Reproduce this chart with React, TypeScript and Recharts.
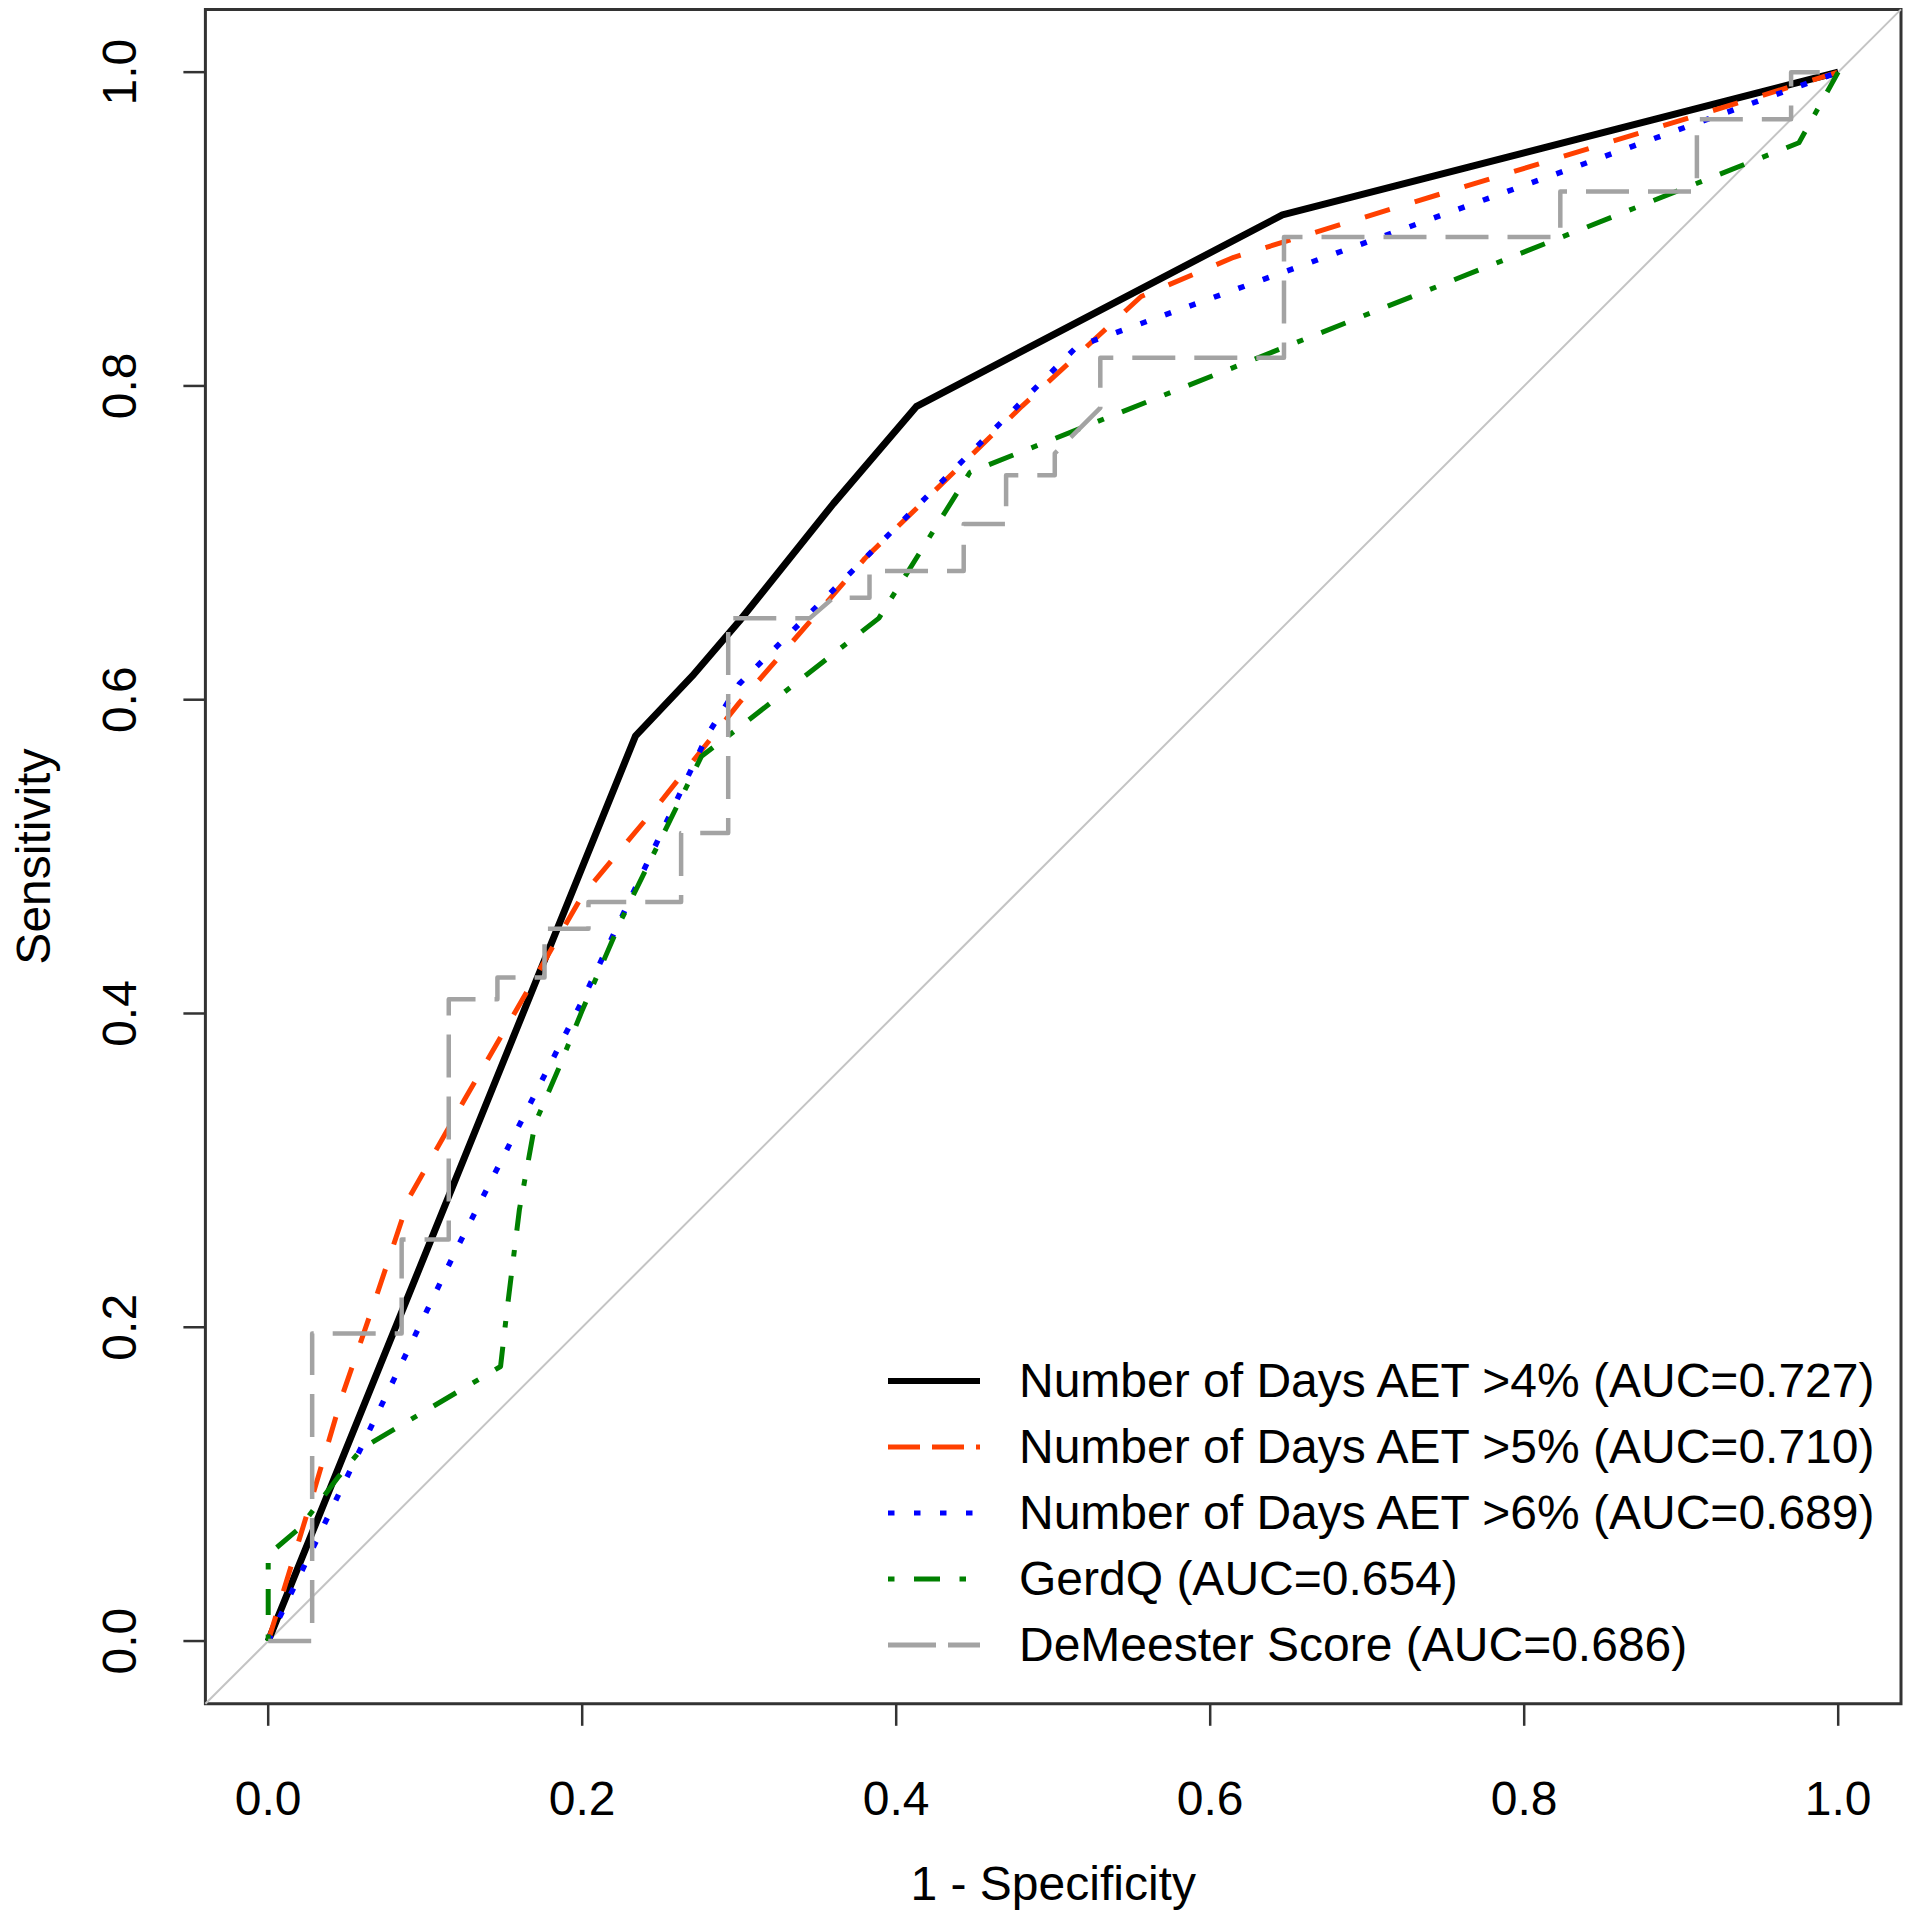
import React from "react";
import {
  Legend,
  Line,
  LineChart,
  ReferenceArea,
  ReferenceLine,
  XAxis,
  YAxis,
} from "recharts";

const FONT = "'Liberation Sans', Arial, Helvetica, sans-serif";

const axisTicks = [0, 0.2, 0.4, 0.6, 0.8, 1];

// x = 1 - specificity, y = sensitivity
const aet4Fpr = [0, 0.234, 0.27, 0.3, 0.36, 0.413, 0.646, 1];
const aet4Sens = [0, 0.577, 0.615, 0.65, 0.725, 0.787, 0.909, 1];

const aet5Fpr = [0, 0.029, 0.047, 0.068, 0.09, 0.125, 0.2, 0.25, 0.3, 0.38, 0.48, 0.556, 0.615, 1];
const aet5Sens = [0, 0.095, 0.156, 0.217, 0.283, 0.345, 0.475, 0.535, 0.598, 0.69, 0.787, 0.857, 0.882, 1];

const aet6Fpr = [0, 0.12, 0.2, 0.28, 0.3, 0.515, 1];
const aet6Sens = [0, 0.25, 0.408, 0.578, 0.61, 0.825, 1];

const gerdqFpr = [0, 0, 0.02, 0.045, 0.06, 0.148, 0.152, 0.16, 0.17, 0.185, 0.2, 0.225, 0.276, 0.297, 0.389, 0.447, 0.975, 1];
const gerdqSens = [0, 0.055, 0.072, 0.105, 0.123, 0.175, 0.21, 0.275, 0.33, 0.365, 0.402, 0.46, 0.564, 0.58, 0.652, 0.745, 0.955, 1];

const demeesterFpr = [
  0, 0.028, 0.028, 0.085, 0.085, 0.115, 0.115, 0.146, 0.146, 0.176, 0.176, 0.204, 0.204,
  0.263, 0.263, 0.293, 0.293, 0.345, 0.36, 0.383, 0.383, 0.443, 0.443, 0.47, 0.47, 0.501,
  0.501, 0.53, 0.53, 0.647, 0.647, 0.823, 0.823, 0.91, 0.91, 0.97, 0.97, 1,
];
const demeesterSens = [
  0, 0, 0.196, 0.196, 0.256, 0.256, 0.409, 0.409, 0.423, 0.423, 0.454, 0.454, 0.471,
  0.471, 0.515, 0.515, 0.652, 0.652, 0.665, 0.665, 0.682, 0.682, 0.712, 0.712, 0.743, 0.743,
  0.757, 0.786, 0.818, 0.818, 0.895, 0.895, 0.924, 0.924, 0.97, 0.97, 1, 1,
];

const toPoints = (xs: number[], ys: number[]) => xs.map((x, i) => ({ x, y: ys[i] }));

const curves = [
  {
    name: "Number of Days AET >4% (AUC=0.727)",
    points: toPoints(aet4Fpr, aet4Sens),
    color: "#000000",
    width: 7,
    dash: undefined as string | undefined,
    legendDash: undefined as string | undefined,
  },
  {
    name: "Number of Days AET >5% (AUC=0.710)",
    points: toPoints(aet5Fpr, aet5Sens),
    color: "#ff4000",
    width: 5,
    dash: "26 26",
    legendDash: "32 12",
  },
  {
    name: "Number of Days AET >6% (AUC=0.689)",
    points: toPoints(aet6Fpr, aet6Sens),
    color: "#0000ff",
    width: 5.5,
    dash: "6.5 19.5",
    legendDash: "6.5 19.5",
  },
  {
    name: "GerdQ (AUC=0.654)",
    points: toPoints(gerdqFpr, gerdqSens),
    color: "#008000",
    width: 5,
    dash: "6.5 19.5 26 19.5",
    legendDash: "6.5 19.5 26 19.5",
  },
  {
    name: "DeMeester Score (AUC=0.686)",
    points: toPoints(demeesterFpr, demeesterSens),
    color: "#a3a3a3",
    width: 4.5,
    dash: "43 19",
    legendDash: "48 12",
  },
];

// layout
const PLOT_LEFT = 205.4;
const PLOT_RIGHT = 1901;
const PLOT_TOP = 9.4;
const PLOT_BOTTOM = 1703.8;
const Y_AXIS_W = 190;
const X_AXIS_H = 200;

function YTick(props: any) {
  const { x, y, payload } = props;
  return (
    <text
      x={x}
      y={y}
      transform={`rotate(-90 ${x} ${y})`}
      textAnchor="middle"
      fontSize={48}
      fontFamily={FONT}
      fill="#000"
    >
      {Number(payload.value).toFixed(1)}
    </text>
  );
}

function RocLegend() {
  return (
    <div style={{ fontFamily: FONT, fontSize: 48, color: "#000" }}>
      {curves.map((c) => (
        <div
          key={c.name}
          style={{
            display: "flex",
            alignItems: "center",
            height: 66,
            lineHeight: "66px",
            whiteSpace: "nowrap",
          }}
        >
          <svg width={92} height={20} style={{ marginRight: 39, flexShrink: 0 }}>
            <line
              x1={0}
              x2={92}
              y1={10}
              y2={10}
              stroke={c.color}
              strokeWidth={c.width === 7 ? 6 : 5}
              strokeDasharray={c.legendDash}
            />
          </svg>
          <span>{c.name}</span>
        </div>
      ))}
    </div>
  );
}

export default function App() {
  return (
    <div style={{ width: 1914, height: 1920, background: "#fff" }}>
      <style>{"body{margin:0}"}</style>
      <LineChart
        width={1914}
        height={1920}
        margin={{
          top: PLOT_TOP,
          right: 1914 - PLOT_RIGHT,
          left: PLOT_LEFT - Y_AXIS_W,
          bottom: 1920 - PLOT_BOTTOM - X_AXIS_H,
        }}
      >
        <XAxis
          type="number"
          dataKey="x"
          domain={[-0.04, 1.04]}
          ticks={axisTicks}
          interval={0}
          allowDataOverflow
          height={X_AXIS_H}
          axisLine={false}
          tickSize={22}
          tickMargin={55}
          tickLine={{ stroke: "#333", strokeWidth: 2.5 }}
          tick={{ fontSize: 48, fill: "#000", fontFamily: FONT }}
          tickFormatter={(v: number) => v.toFixed(1)}
          label={{
            value: "1 - Specificity",
            content: () => (
              <text
                x={(PLOT_LEFT + PLOT_RIGHT) / 2}
                y={1900}
                textAnchor="middle"
                fontSize={48}
                fontFamily={FONT}
                fill="#000"
              >
                1 - Specificity
              </text>
            ),
          }}
        />
        <YAxis
          type="number"
          dataKey="y"
          domain={[-0.04, 1.04]}
          ticks={axisTicks}
          interval={0}
          allowDataOverflow
          width={Y_AXIS_W}
          axisLine={false}
          tickSize={22}
          tickMargin={47.4}
          tickLine={{ stroke: "#333", strokeWidth: 2.5 }}
          tick={YTick}
          label={{
            value: "Sensitivity",
            content: () => {
              const cy = (PLOT_TOP + PLOT_BOTTOM) / 2;
              return (
                <text
                  x={50}
                  y={cy}
                  transform={`rotate(-90 50 ${cy})`}
                  textAnchor="middle"
                  fontSize={48}
                  fontFamily={FONT}
                  fill="#000"
                >
                  Sensitivity
                </text>
              );
            },
          }}
        />
        <ReferenceLine
          segment={[
            { x: -0.04, y: -0.04 },
            { x: 1.04, y: 1.04 },
          ]}
          stroke="#c4c4c4"
          strokeWidth={2}
          ifOverflow="visible"
        />
        {curves.map((c) => (
          <Line
            key={c.name}
            name={c.name}
            data={c.points}
            dataKey="y"
            type="linear"
            stroke={c.color}
            strokeWidth={c.width}
            strokeDasharray={c.dash}
            strokeLinejoin="round"
            dot={false}
            activeDot={false}
            legendType="none"
            isAnimationActive={false}
          />
        ))}
        <ReferenceArea
          x1={-0.04}
          x2={1.04}
          y1={-0.04}
          y2={1.04}
          fill="none"
          fillOpacity={0}
          stroke="#333"
          strokeWidth={3}
          ifOverflow="visible"
        />
        <Legend
          layout="vertical"
          align="center"
          verticalAlign="middle"
          wrapperStyle={{ left: 888, top: 1348, width: 1010, height: 330 }}
          content={() => <RocLegend />}
        />
      </LineChart>
    </div>
  );
}
